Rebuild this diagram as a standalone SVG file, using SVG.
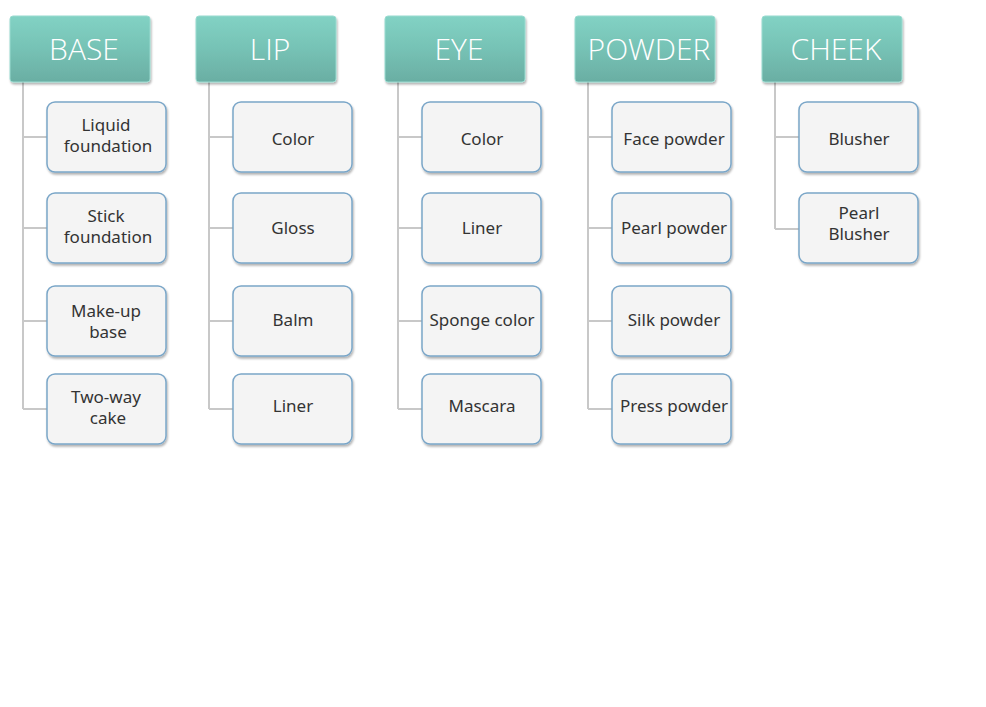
<svg xmlns="http://www.w3.org/2000/svg" width="986" height="707" viewBox="0 0 986 707">
<defs>
<linearGradient id="hg" x1="0" y1="0" x2="0" y2="1">
<stop offset="0" stop-color="#82d2c4"/>
<stop offset="0.5" stop-color="#76c2b5"/>
<stop offset="1" stop-color="#6aaea3"/>
</linearGradient>
<filter id="sh" x="-10%" y="-10%" width="125%" height="130%">
<feDropShadow dx="1" dy="2" stdDeviation="1.2" flood-color="#000" flood-opacity="0.3"/>
</filter>
<style>
.h{fill:url(#hg);stroke:#9adbd0;stroke-width:1;filter:url(#sh)}
.ht{font-family:"Open Sans","Noto Sans",sans-serif;font-size:30px;fill:#fff;text-anchor:middle;font-weight:300}
.c{fill:#f4f4f4;stroke:#7aa6c8;stroke-width:1.5;filter:url(#sh)}
.ct{font-family:"Noto Sans","Open Sans",sans-serif;font-size:17px;fill:#333;text-anchor:middle}
.ln{stroke:#c8c8c8;stroke-width:2;fill:none}
</style>
</defs>
<g id="connectors">
<path class="ln" d="M23 82V409M23 137H47M23 228H47M23 321H47M23 409H47"/>
<path class="ln" d="M209 82V409M209 137H233M209 228H233M209 321H233M209 409H233"/>
<path class="ln" d="M398 82V409M398 137H422M398 228H422M398 321H422M398 409H422"/>
<path class="ln" d="M588 82V409M588 137H612M588 228H612M588 321H612M588 409H612"/>
<path class="ln" d="M775 82V229M775 137H799M775 229H799"/>
</g>
<g id="base"><rect class="h" x="10" y="16" width="140" height="66" rx="3"/><text class="ht" x="84" y="60">BASE</text></g>
<g id="lip"><rect class="h" x="196" y="16" width="140" height="66" rx="3"/><text class="ht" x="270" y="60">LIP</text></g>
<g id="eye"><rect class="h" x="385" y="16" width="140" height="66" rx="3"/><text class="ht" x="459" y="60">EYE</text></g>
<g id="powder"><rect class="h" x="575" y="16" width="140" height="66" rx="3"/><text class="ht" x="649" y="60">POWDER</text></g>
<g id="cheek"><rect class="h" x="762" y="16" width="140" height="66" rx="3"/><text class="ht" x="836" y="60">CHEEK</text></g>

<g id="base1"><rect class="c" x="47" y="102" width="119" height="70" rx="8"/><text class="ct" x="106" y="131">Liquid</text><text class="ct" x="108" y="152">foundation</text></g>
<g id="base2"><rect class="c" x="47" y="193" width="119" height="70" rx="8"/><text class="ct" x="106" y="222">Stick</text><text class="ct" x="108" y="243">foundation</text></g>
<g id="base3"><rect class="c" x="47" y="286" width="119" height="70" rx="8"/><text class="ct" x="106" y="317">Make-up</text><text class="ct" x="108" y="338">base</text></g>
<g id="base4"><rect class="c" x="47" y="374" width="119" height="70" rx="8"/><text class="ct" x="106" y="403">Two-way</text><text class="ct" x="108" y="424">cake</text></g>

<g id="lip1"><rect class="c" x="233" y="102" width="119" height="70" rx="8"/><text class="ct" x="293" y="145">Color</text></g>
<g id="lip2"><rect class="c" x="233" y="193" width="119" height="70" rx="8"/><text class="ct" x="293" y="234">Gloss</text></g>
<g id="lip3"><rect class="c" x="233" y="286" width="119" height="70" rx="8"/><text class="ct" x="293" y="326">Balm</text></g>
<g id="lip4"><rect class="c" x="233" y="374" width="119" height="70" rx="8"/><text class="ct" x="293" y="412">Liner</text></g>

<g id="eye1"><rect class="c" x="422" y="102" width="119" height="70" rx="8"/><text class="ct" x="482" y="145">Color</text></g>
<g id="eye2"><rect class="c" x="422" y="193" width="119" height="70" rx="8"/><text class="ct" x="482" y="234">Liner</text></g>
<g id="eye3"><rect class="c" x="422" y="286" width="119" height="70" rx="8"/><text class="ct" x="482" y="326">Sponge color</text></g>
<g id="eye4"><rect class="c" x="422" y="374" width="119" height="70" rx="8"/><text class="ct" x="482" y="412">Mascara</text></g>

<g id="powder1"><rect class="c" x="612" y="102" width="119" height="70" rx="8"/><text class="ct" x="674" y="145">Face powder</text></g>
<g id="powder2"><rect class="c" x="612" y="193" width="119" height="70" rx="8"/><text class="ct" x="674" y="234">Pearl powder</text></g>
<g id="powder3"><rect class="c" x="612" y="286" width="119" height="70" rx="8"/><text class="ct" x="674" y="326">Silk powder</text></g>
<g id="powder4"><rect class="c" x="612" y="374" width="119" height="70" rx="8"/><text class="ct" x="674" y="412">Press powder</text></g>

<g id="cheek1"><rect class="c" x="799" y="102" width="119" height="70" rx="8"/><text class="ct" x="859" y="145">Blusher</text></g>
<g id="cheek2"><rect class="c" x="799" y="193" width="119" height="70" rx="8"/><text class="ct" x="859" y="219">Pearl</text><text class="ct" x="859" y="240">Blusher</text></g>
</svg>
